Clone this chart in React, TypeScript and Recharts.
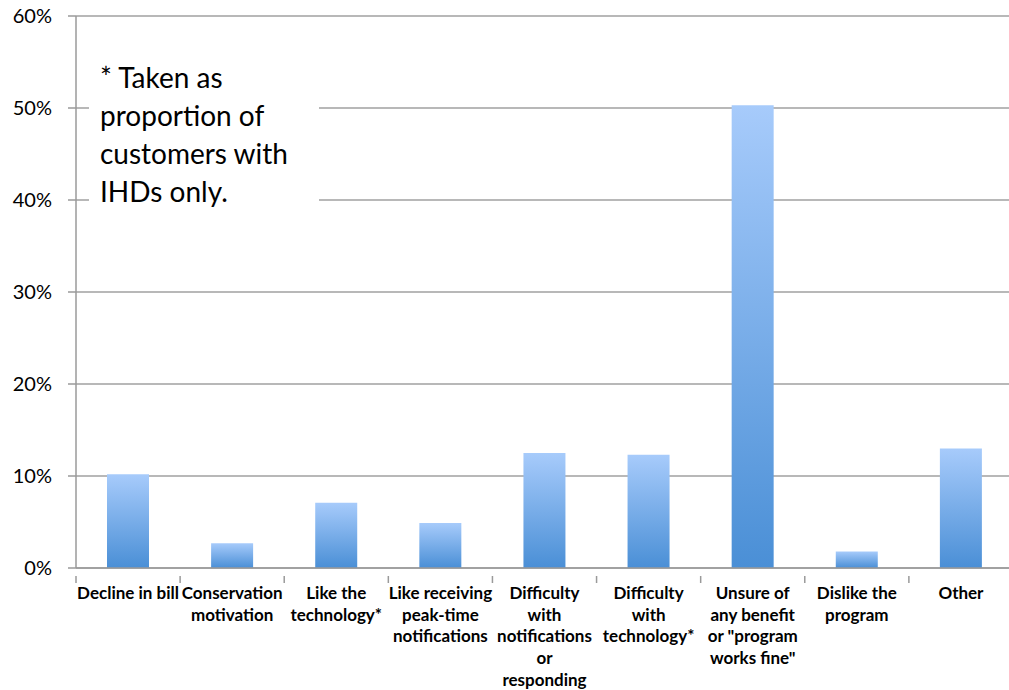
import React from "react";
import { BarChart, Bar, XAxis, YAxis, CartesianGrid } from "recharts";

const categories = [
  "Decline in bill",
  "Conservation\nmotivation",
  "Like the\ntechnology*",
  "Like receiving\npeak-time\nnotifications",
  "Difficulty\nwith\nnotifications\nor\nresponding",
  "Difficulty\nwith\ntechnology*",
  "Unsure of\nany benefit\nor \"program\nworks fine\"",
  "Dislike the\nprogram",
  "Other",
];
const values = [0.102, 0.027, 0.071, 0.049, 0.125, 0.123, 0.503, 0.018, 0.13];
const yTicks = [0, 0.1, 0.2, 0.3, 0.4, 0.5, 0.6];
const noteLines = ["* Taken as", "proportion of", "customers with", "IHDs only."];

const data = categories.map((c, i) => ({ name: c, value: values[i] }));

const PAGE_W = 1009;
const W = 1013;
const H = 690;
const LEFT = 76;
const TOP = 16;
const BOTTOM = 122;
const BAND = (W - LEFT) / categories.length;
const FONT = "Lato, 'Open Sans', sans-serif";

const XTick = (props: any) => {
  const { x, y, payload } = props;
  const lines = String(payload.value).split("\n");
  return (
    <g>
      <line x1={x - BAND / 2} y1={y} x2={x - BAND / 2} y2={y + 7} stroke="#9a9a9a" strokeWidth={1.5} />
      <text textAnchor="middle" fontFamily={FONT} fontWeight={700} fontSize={17} fill="#000">
        {lines.map((l, i) => (
          <tspan key={i} x={x} y={y + 23 + i * 21.7}>
            {l}
          </tspan>
        ))}
      </text>
    </g>
  );
};

export default function App() {
  return (
    <div
      style={{
        position: "absolute",
        left: 0,
        top: 0,
        width: PAGE_W,
        height: H,
        overflow: "hidden",
        background: "#fff",
      }}
    >
      <BarChart
        width={W}
        height={H}
        data={data}
        margin={{ top: TOP, right: 0, left: 0, bottom: 12 }}
      >
        <defs>
          <linearGradient id="barGrad" x1="0" y1="0" x2="0" y2="1">
            <stop offset="0%" stopColor="#a7cbfb" />
            <stop offset="100%" stopColor="#4a8fd6" />
          </linearGradient>
        </defs>
        <CartesianGrid vertical={false} stroke="#a0a0a0" strokeWidth={1.3} />
        <XAxis
          dataKey="name"
          interval={0}
          height={BOTTOM - 12}
          tick={<XTick />}
          tickLine={false}
          axisLine={{ stroke: "#9a9a9a", strokeWidth: 1.5 }}
        />
        <YAxis
          width={LEFT}
          domain={[0, 0.6]}
          ticks={yTicks}
          interval={0}
          tickFormatter={(v: number) => `${Math.round(v * 100)}%`}
          tick={{ fontFamily: FONT, fontSize: 20, fill: "#000" }}
          tickSize={8}
          tickMargin={16}
          tickLine={{ stroke: "#9a9a9a", strokeWidth: 1.5 }}
          axisLine={{ stroke: "#9a9a9a", strokeWidth: 1.5 }}
        />
        <Bar dataKey="value" fill="url(#barGrad)" barSize={42} isAnimationActive={false} />
      </BarChart>
      <div
        style={{
          position: "absolute",
          left: 89,
          top: 58,
          width: 230,
          height: 155,
          background: "#fff",
          fontFamily: FONT,
          fontSize: 28,
          lineHeight: "38px",
          color: "#000",
          paddingLeft: 11,
          boxSizing: "border-box",
        }}
      >
        {noteLines.map((l, i) => (
          <div key={i}>{l}</div>
        ))}
      </div>
    </div>
  );
}
